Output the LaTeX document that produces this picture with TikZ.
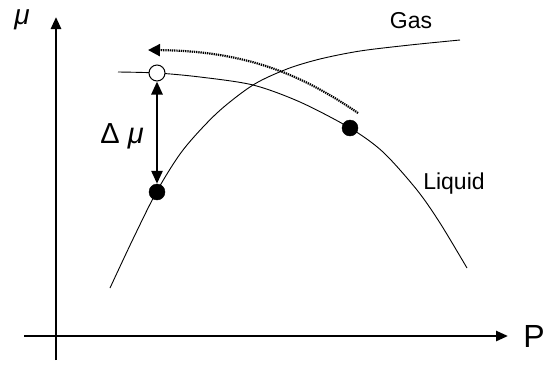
\documentclass[tikz,border=0pt]{standalone}
\usepackage{fontspec}
\setmainfont{Liberation Sans}
\usetikzlibrary{arrows.meta}
\tikzset{
  axis/.style={line width=2.6pt,-{Triangle[length=12pt,width=10pt]}},
  curve/.style={line width=0.9pt},
  fdot/.style={circle,fill=black,draw=black,minimum size=16pt,inner sep=0pt},
  odot/.style={circle,fill=white,draw=black,line width=1pt,minimum size=16pt,inner sep=0pt},
  darrow/.style={line width=2.6pt,{Triangle[length=13pt,width=11pt]}-{Triangle[length=13pt,width=11pt]}},
  dotarrow/.style={line width=2.2pt,dash pattern=on 1.3pt off 0.9pt,-{Triangle[length=12pt,width=12pt]}},
  lbl/.style={inner sep=0pt,font=\fontsize{23}{25}\selectfont},
}
\begin{document}
\begin{tikzpicture}[x=1pt,y=-1pt]
\useasboundingbox (0,0) rectangle (545,365);
% axes
\coordinate (yb) at (56,360);
\coordinate (yt) at (56,17);
\coordinate (xl) at (24,336);
\coordinate (xr) at (508,336);
\draw[axis] (yb) -- (yt);
\draw[axis] (xl) -- (xr);
\node[inner sep=0pt,font=\fontsize{32}{34}\selectfont] (P) at (534,336) {P};
\node[inner sep=0pt,anchor=base,text height=0.55em,font=\fontsize{28}{30}\selectfont\itshape] (mu) at (22,24) {μ};
% curves
\draw[curve] plot[smooth,tension=0.5] coordinates {(118,72) (157,73) (200,77) (253,85) (300,102) (350,128) (383,152) (417,190) (440,223) (467,268)};
\draw[curve] plot[smooth,tension=0.5] coordinates {(110,288) (133,239) (157,191) (183,150) (217,113) (253,85) (287,69) (320,59) (360,51) (410,45) (460,40)};
% dots
\node[odot] (o) at (157,73) {};
\node[fdot] (a) at (157,192) {};
\node[fdot] (b) at (350,128) {};
% delta mu arrow
\draw[darrow] (o.south) -- (a.north);
\node[inner sep=0pt,font=\fontsize{29}{31}\selectfont] (dm) at (122,136) {Δ \textit{μ}};
% dotted arrow
\coordinate (ds) at (358,113);
\coordinate (de) at (148,50);
\draw[dotarrow] (ds) .. controls (305,77) and (250,51) .. (de);
% labels
\node[lbl] (gas) at (411,21) {Gas};
\node[lbl] (liq) at (454,184) {Liquid};
\end{tikzpicture}
\end{document}
